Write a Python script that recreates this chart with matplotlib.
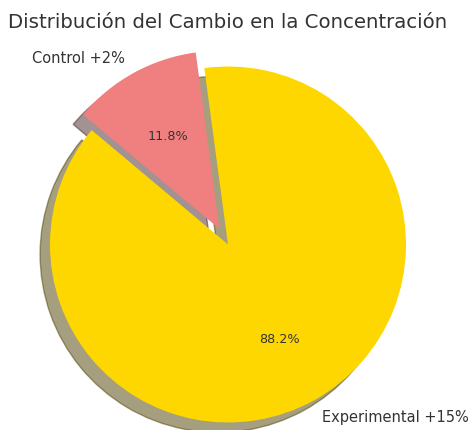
import matplotlib.pyplot as plt

# datos
grupos = ['Experimental +15%', 'Control +2%']
cambios = [15, 2]
colores = ['gold', 'lightcoral']
separacion = [0, 0.1]

fig = plt.figure(figsize=(4.72, 4.31), dpi=100)
ax = fig.add_axes([5.5 / 472, -37 / 431, 445 / 472, 445 / 431])

wedges, texts, autotexts = ax.pie(cambios, labels=grupos, colors=colores,
                                  explode=separacion, autopct='%1.1f%%',
                                  startangle=140,
                                  shadow={'ox': -0.04, 'oy': -0.04})

for t in texts:
    t.set_fontsize(10.5)
    t.set_color('#333333')
for t in autotexts:
    t.set_fontsize(9.2)
    t.set_color('#333333')

ax.set_title('Distribución del Cambio en la Concentración',
             fontsize=14.2, color='#333333', y=1.0, pad=-3.6)

fig.savefig('out.png', dpi=100)
